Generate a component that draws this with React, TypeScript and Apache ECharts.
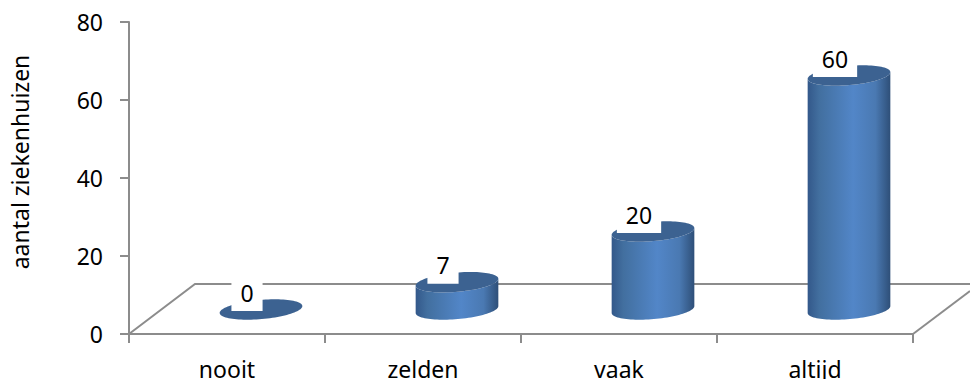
import React, { useEffect, useRef } from "react";
import * as echarts from "echarts";

const categories = ["nooit", "zelden", "vaak", "altijd"];
const hospitalCounts = [0, 7, 20, 60];
const valueTicks = [0, 20, 40, 60, 80];

const FONT = "'Noto Sans'";
const AXIS_GREY = "#8c8c8c";
const RADIUS_X = 41.5;
const RADIUS_Y = 9.6;
const TILT = (-5 * Math.PI) / 180;
// The cylinders stand on the floor plane, so they sit up and right of the front axis.
const DEPTH_X = 34;
const DEPTH_Y = -24.5;
const LABEL_SHIFT_X = 20;
const LABEL_RISE = 41.5;

const ellipsePoint = (cx: number, cy: number, t: number) => {
  const ex = RADIUS_X * Math.cos(t);
  const ey = RADIUS_Y * Math.sin(t);
  return [cx + ex * Math.cos(TILT) - ey * Math.sin(TILT), cy + ex * Math.sin(TILT) + ey * Math.cos(TILT)];
};

const arcPoints = (cx: number, cy: number, from: number, to: number, steps = 48) => {
  const pts: number[][] = [];
  for (let i = 0; i <= steps; i++) pts.push(ellipsePoint(cx, cy, from + ((to - from) * i) / steps));
  return pts;
};

const renderCylinder = (_params: any, api: any) => {
  const index = api.value(0);
  const value = api.value(1);
  const [baseX, baseY] = api.coord([index, 0]);
  const [, topY] = api.coord([index, value]);
  const cx = baseX + DEPTH_X;
  const bottom = baseY + DEPTH_Y;
  const top = topY + DEPTH_Y;
  const children: any[] = [];

  if (value > 0) {
    children.push({
      type: "polygon",
      shape: {
        points: [...arcPoints(cx, bottom, Math.PI, 0), ...arcPoints(cx, top, 0, Math.PI)],
      },
      style: {
        fill: new echarts.graphic.LinearGradient(0, 0, 1, 0, [
          { offset: 0, color: "#33588a" },
          { offset: 0.14, color: "#426f9f" },
          { offset: 0.55, color: "#5286c8" },
          { offset: 0.82, color: "#4a79b2" },
          { offset: 1, color: "#2e4f78" },
        ]),
      },
    });
  }
  children.push({
    type: "polygon",
    shape: { points: arcPoints(cx, top, 0, Math.PI * 2, 96) },
    style: { fill: "#3c6291" },
  });
  children.push({
    type: "text",
    style: {
      text: String(value),
      x: baseX + LABEL_SHIFT_X,
      y: topY - LABEL_RISE,
      align: "center",
      verticalAlign: "middle",
      font: `23px ${FONT}`,
      fill: "#000",
      backgroundColor: "#fff",
      padding: [8, 9, 8, 9],
      lineHeight: 21,
    },
  });
  return { type: "group", children };
};

export default function App() {
  const ref = useRef<HTMLDivElement>(null);

  useEffect(() => {
    document.body.style.margin = "0";
    const chart = echarts.init(ref.current!, undefined, { renderer: "svg" });
    chart.setOption({
      animation: false,
      backgroundColor: "#fff",
      // Fixed plot rectangle: the category labels reach the bottom edge and must not shrink it.
      grid: { left: 129, right: 57, top: 22, bottom: 45, outerBoundsMode: "none" },
      xAxis: {
        type: "category",
        data: categories,
        axisLine: { lineStyle: { color: AXIS_GREY, width: 2 } },
        axisTick: { show: true, length: 9, lineStyle: { color: AXIS_GREY, width: 2 } },
        axisLabel: { color: "#000", fontFamily: "Noto Sans", fontSize: 23, margin: 23 },
      },
      yAxis: {
        type: "value",
        min: valueTicks[0],
        max: valueTicks[valueTicks.length - 1],
        interval: valueTicks[1] - valueTicks[0],
        splitLine: { show: false },
        axisLine: { show: true, lineStyle: { color: AXIS_GREY, width: 2 } },
        axisTick: { show: true, length: 9, lineStyle: { color: AXIS_GREY, width: 2 } },
        axisLabel: { color: "#000", fontFamily: "Noto Sans", fontSize: 23, margin: 26, padding: [2, 0, 0, 0] },
      },
      graphic: [
        // Floor of the 3D plot area
        {
          type: "polyline",
          z: 0,
          shape: { points: [[129, 334], [195, 284], [970, 284]] },
          style: { stroke: AXIS_GREY, lineWidth: 2, fill: "none" },
        },
        {
          type: "line",
          z: 0,
          shape: { x1: 913, y1: 334, x2: 970, y2: 291 },
          style: { stroke: AXIS_GREY, lineWidth: 2 },
        },
        {
          type: "text",
          x: 20,
          y: 162,
          rotation: Math.PI / 2,
          style: {
            text: "aantal ziekenhuizen",
            align: "center",
            verticalAlign: "middle",
            font: `23px ${FONT}`,
            fill: "#000",
          },
        },
      ],
      series: [
        {
          type: "custom",
          clip: false,
          z: 3,
          data: hospitalCounts.map((v, i) => [i, v]),
          encode: { x: 0, y: 1 },
          renderItem: renderCylinder,
        },
      ],
    });
    return () => chart.dispose();
  }, []);

  return <div ref={ref} style={{ width: 970, height: 379 }} />;
}
